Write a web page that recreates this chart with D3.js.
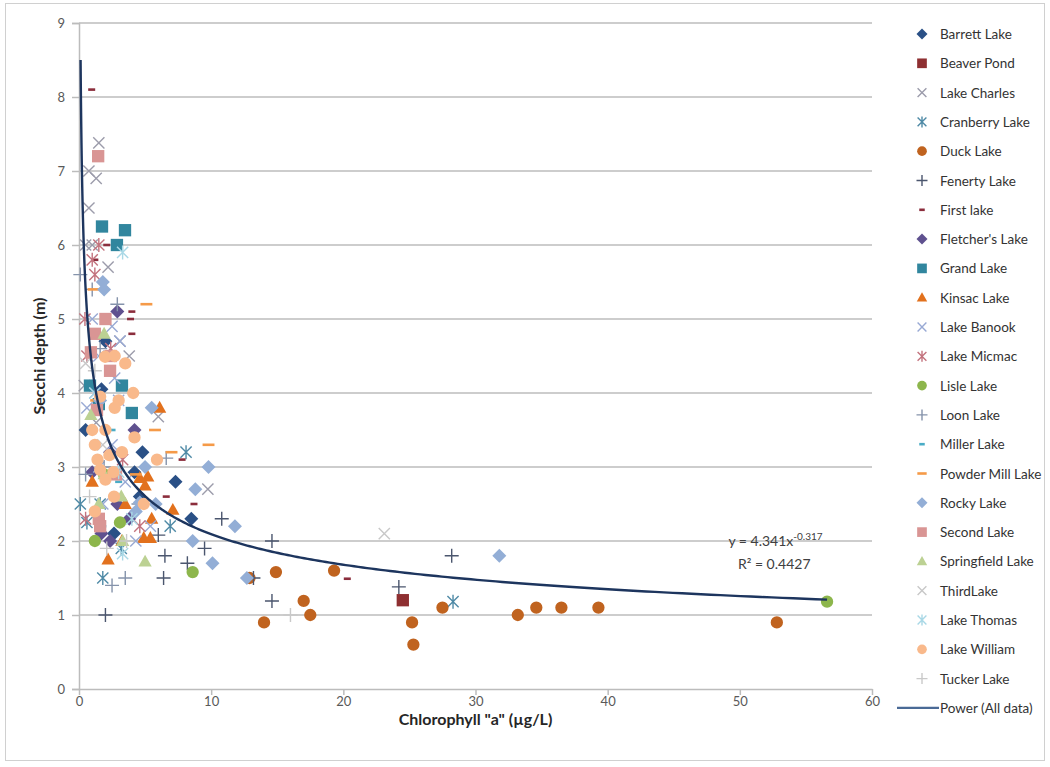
<!DOCTYPE html>
<html>
<head>
<meta charset="utf-8">
<script src="https://cdn.jsdelivr.net/npm/d3@7"></script>
<style>
  body { margin: 0; background: #fff; }
  text { font-family: Lato, "Open Sans", sans-serif; }
</style>
</head>
<body>
<div id="viz"></div>
<script>
// values: [chlorophyll a (ug/L), secchi depth (m)]
const barrettLake = [[0.5,3.5],[2.0,4.7],[4.8,3.2],[7.3,2.8],[8.5,2.3],[4.6,2.6],[2.65,2.1],[4.2,2.93],[1.7,4.05]];
const beaverPond = [[24.5,1.2]];
const lakeCharles = [[1.5,7.38],[0.75,7.0],[1.3,6.9],[0.75,6.5],[0.5,6.0],[1.0,6.0],[2.2,5.7],[3.1,4.7],[3.8,4.5],[6.0,3.68],[9.75,2.7],[1.3,3.6],[0.4,4.1]];
const cranberryLake = [[0.1,2.5],[0.6,2.25],[6.9,2.2],[8.1,3.2],[1.8,1.5],[28.3,1.18],[3.2,1.9],[1.6,2.5]];
const duckLake = [[12.9,1.5],[14.9,1.58],[19.3,1.6],[17.0,1.19],[17.5,1.0],[14.0,0.9],[25.2,0.9],[25.3,0.6],[27.5,1.1],[33.2,1.0],[34.6,1.1],[36.5,1.1],[39.3,1.1],[52.8,0.9]];
const fenertyLake = [[2.0,1.0],[6.4,1.5],[6.5,1.8],[8.2,1.7],[9.5,1.9],[6.0,2.08],[10.8,2.3],[14.6,2.0],[14.6,1.19],[24.2,1.38],[28.2,1.8],[13.2,1.5]];
const firstLake = [[0.96,8.1],[2.1,6.0],[4.0,5.1],[3.9,5.0],[4.0,4.8],[7.8,3.1],[6.6,2.6],[8.7,2.5],[20.3,1.49],[1.2,5.8]];
const fletchersLake = [[2.9,5.1],[1.0,2.93],[2.35,3.2],[3.8,2.3],[2.35,2.0],[1.7,2.1],[2.9,2.5],[4.2,3.5]];
const grandLake = [[1.74,6.25],[3.48,6.2],[2.87,6.0],[0.83,4.1],[3.25,4.1],[4.0,3.73],[1.5,3.85]];
const kinsacLake = [[6.1,3.8],[1.0,2.8],[4.6,2.85],[5.2,2.87],[5.0,2.75],[3.5,2.5],[7.1,2.42],[5.5,2.3],[4.9,2.04],[5.4,2.04],[2.2,1.75],[3.25,2.0]];
const lakeBanook = [[1.0,5.0],[1.5,4.5],[2.5,4.9],[1.2,4.0],[2.5,3.3],[0.6,3.8],[3.5,2.8],[4.3,2.0],[1.5,3.0],[2.7,4.2],[1.8,2.5],[5.4,2.2],[3.0,3.9],[3.1,4.7]];
const lakeMicmac = [[1.0,5.8],[1.2,5.6],[0.45,5.0],[0.6,4.5],[1.5,6.0],[0.5,2.3],[2.4,4.6],[4.6,2.2],[3.3,3.1]];
const lisleLake = [[1.2,2.0],[3.1,2.25],[8.6,1.58],[56.6,1.18],[1.9,2.9]];
const loonLake = [[0.1,5.6],[1.0,5.4],[2.9,5.2],[1.6,4.6],[6.6,3.12],[3.5,1.5],[2.5,1.4],[1.9,3.0],[4.5,2.5],[0.5,2.9]];
const millerLake = [[2.5,3.5],[1.8,2.2],[3.0,2.8]];
const powderMillLake = [[5.1,5.2],[1.1,5.4],[5.75,3.5],[9.8,3.3],[7.0,3.2],[4.3,2.9],[1.3,3.9]];
const rockyLake = [[1.8,5.5],[1.9,5.4],[5.5,3.8],[9.8,3.0],[5.0,3.0],[8.8,2.7],[8.6,2.0],[10.1,1.7],[11.8,2.2],[12.7,1.5],[31.8,1.8],[4.6,2.52],[5.8,2.5],[1.6,3.9],[4.3,2.4]];
const secondLake = [[1.45,7.2],[2.0,5.0],[1.2,4.8],[2.35,4.3],[1.36,3.77],[2.4,4.5],[1.5,2.3],[1.6,2.2],[2.8,2.9],[0.9,4.55]];
const springfieldLake = [[1.9,4.8],[5.0,1.72],[1.5,2.5],[3.2,2.6],[1.9,2.9],[0.9,3.7],[3.3,2.0]];
const thirdLake = [[23.1,2.1],[0.5,4.4],[1.8,3.3]];
const lakeThomas = [[3.3,1.83],[3.3,5.9],[1.2,4.0],[3.0,2.93],[4.0,2.3]];
const lakeWilliam = [[1.97,4.49],[2.7,4.5],[3.5,4.4],[4.1,4.0],[1.6,3.95],[3.0,3.9],[2.7,3.8],[1.0,3.5],[2.0,3.5],[4.2,3.4],[1.2,3.3],[2.3,3.16],[3.25,3.2],[5.9,3.1],[4.9,2.5],[2.65,2.6],[1.6,2.96],[2.6,2.93],[2.0,2.83],[1.2,2.4],[1.4,3.1]];
const tuckerLake = [[16.0,1.0],[1.2,4.3],[0.8,2.6],[3.6,2.0],[2.1,1.9]];

const seriesNames = ["Barrett Lake","Beaver Pond","Lake Charles","Cranberry Lake","Duck Lake","Fenerty Lake","First lake","Fletcher's Lake","Grand Lake","Kinsac Lake","Lake Banook","Lake Micmac","Lisle Lake","Loon Lake","Miller Lake","Powder Mill Lake","Rocky Lake","Second Lake","Springfield Lake","ThirdLake","Lake Thomas","Lake William","Tucker Lake"];
const seriesData = [barrettLake, beaverPond, lakeCharles, cranberryLake, duckLake, fenertyLake, firstLake, fletchersLake, grandLake, kinsacLake, lakeBanook, lakeMicmac, lisleLake, loonLake, millerLake, powderMillLake, rockyLake, secondLake, springfieldLake, thirdLake, lakeThomas, lakeWilliam, tuckerLake];

// power trend fitted to all data
const trendA = 4.341;
const trendB = -0.317;
const trendRange = [0.12, 56.6];
const xTicks = [0, 10, 20, 30, 40, 50, 60];
const yTicks = [0, 1, 2, 3, 4, 5, 6, 7, 8, 9];

// marker look for each series, in the same order
const markerStyle = [
  {shape: "diamond", color: "#2a5086"},
  {shape: "square", color: "#8e2f31"},
  {shape: "x", color: "#9c9cab"},
  {shape: "star", color: "#4f8aa6"},
  {shape: "circle", color: "#c0631f"},
  {shape: "plus", color: "#4b566e"},
  {shape: "dash", color: "#8b2d3c"},
  {shape: "diamond", color: "#5f518f"},
  {shape: "square", color: "#31869e"},
  {shape: "triangle", color: "#e2711d"},
  {shape: "x", color: "#98a9d4"},
  {shape: "star", color: "#c3737e"},
  {shape: "circle", color: "#8db64c"},
  {shape: "plus", color: "#8593ab"},
  {shape: "dash", color: "#4aacc6"},
  {shape: "longdash", color: "#f59a48"},
  {shape: "diamond", color: "#93aed6"},
  {shape: "square", color: "#d99594"},
  {shape: "triangle", color: "#bcd193"},
  {shape: "x", color: "#c8c8c8"},
  {shape: "star", color: "#a9d8e6"},
  {shape: "circle", color: "#f9b98b"},
  {shape: "plus", color: "#c9c9c9"}
];

const W = 1050, H = 767;
const margin = {top: 23, right: 178, bottom: 78, left: 79};
const width = W - margin.left - margin.right;
const height = H - margin.top - margin.bottom;

const svg = d3.select("#viz").append("svg")
  .attr("width", W)
  .attr("height", H);

svg.append("rect")
  .attr("x", 5.5).attr("y", 3.5)
  .attr("width", W - 11).attr("height", H - 10)
  .attr("fill", "none")
  .attr("stroke", "#d0d0d0");

const g = svg.append("g").attr("transform", `translate(${margin.left},${margin.top})`);

const x = d3.scaleLinear().domain([0, 60]).range([0, width]);
const y = d3.scaleLinear().domain([0, 9]).range([height, 0]);

// gridlines + y axis
const yAxis = g.append("g")
  .call(d3.axisLeft(y).tickValues(yTicks).tickSize(7).tickFormat(d3.format("d")));
yAxis.select(".domain").attr("stroke", "#bcbcbc").attr("stroke-width", 1.5);
yAxis.selectAll(".tick line").attr("stroke", "#bcbcbc").attr("stroke-width", 1.5);
yAxis.selectAll(".tick text").attr("fill", "#595959").style("font-size", "13px").attr("x", -14);

g.append("g")
  .selectAll("line")
  .data(yTicks.filter(d => d > 0))
  .join("line")
    .attr("x1", 0).attr("x2", width)
    .attr("y1", d => y(d)).attr("y2", d => y(d))
    .attr("stroke", "#bcbcbc")
    .attr("stroke-width", 1.5);

const xAxis = g.append("g")
  .attr("transform", `translate(0,${height})`)
  .call(d3.axisBottom(x).tickValues(xTicks).tickSize(6).tickSizeOuter(0));
xAxis.select(".domain").attr("stroke", "#bcbcbc").attr("stroke-width", 1.5);
xAxis.selectAll(".tick line").attr("stroke", "#bcbcbc").attr("stroke-width", 1.5);
xAxis.selectAll(".tick text").attr("fill", "#595959").style("font-size", "13px").attr("y", 8);

function markerPath(shape, s) {
  const p = d3.path();
  if (shape === "diamond") {
    p.moveTo(0, -s); p.lineTo(s, 0); p.lineTo(0, s); p.lineTo(-s, 0); p.closePath();
  } else if (shape === "square") {
    p.rect(-s * 0.88, -s * 0.88, s * 1.76, s * 1.76);
  } else if (shape === "triangle") {
    p.moveTo(0, -s); p.lineTo(s * 0.95, s * 0.7); p.lineTo(-s * 0.95, s * 0.7); p.closePath();
  } else if (shape === "circle") {
    p.arc(0, 0, s * 0.88, 0, 2 * Math.PI);
  } else if (shape === "x") {
    p.moveTo(-s * 0.8, -s * 0.8); p.lineTo(s * 0.8, s * 0.8);
    p.moveTo(s * 0.8, -s * 0.8); p.lineTo(-s * 0.8, s * 0.8);
  } else if (shape === "plus") {
    p.moveTo(-s, 0); p.lineTo(s, 0); p.moveTo(0, -s); p.lineTo(0, s);
  } else if (shape === "star") {
    p.moveTo(-s * 0.8, -s * 0.8); p.lineTo(s * 0.8, s * 0.8);
    p.moveTo(s * 0.8, -s * 0.8); p.lineTo(-s * 0.8, s * 0.8);
    p.moveTo(0, -s); p.lineTo(0, s);
  } else if (shape === "dash") {
    p.rect(-s * 0.5, -1.3, s, 2.6);
  } else if (shape === "longdash") {
    p.rect(-s * 0.85, -1.3, s * 1.7, 2.6);
  }
  return p.toString();
}

const filled = new Set(["diamond", "square", "triangle", "circle", "dash", "longdash"]);

function drawMarker(sel, style) {
  sel.attr("d", markerPath(style.shape, 7))
    .attr("fill", filled.has(style.shape) ? style.color : "none")
    .attr("stroke", filled.has(style.shape) ? "none" : style.color)
    .attr("stroke-width", 1.4);
}

const points = g.append("g");
seriesData.forEach((pts, i) => {
  points.append("g")
    .selectAll("path")
    .data(pts)
    .join("path")
      .attr("transform", d => `translate(${x(d[0])},${y(d[1])})`)
      .call(drawMarker, markerStyle[i]);
});

// power trend line
const trendX = d3.range(0, 401).map(i => trendRange[0] * Math.pow(trendRange[1] / trendRange[0], i / 400));
g.append("path")
  .datum(trendX)
  .attr("fill", "none")
  .attr("stroke", "#1d355e")
  .attr("stroke-width", 2.4)
  .attr("d", d3.line().x(d => x(d)).y(d => y(trendA * Math.pow(d, trendB))));

const eq = g.append("text")
  .attr("x", x(52.7)).attr("y", y(1.93))
  .attr("text-anchor", "middle")
  .attr("fill", "#404040")
  .style("font-size", "14px");
eq.append("tspan").text(`y = ${trendA}x`);
eq.append("tspan").attr("dy", -6).style("font-size", "10px").text(trendB);
g.append("text")
  .attr("x", x(52.6)).attr("y", y(1.62))
  .attr("text-anchor", "middle")
  .attr("fill", "#404040")
  .style("font-size", "14px")
  .text("R² = 0.4427");

// axis titles
svg.append("text")
  .attr("x", margin.left + width / 2).attr("y", 725)
  .attr("text-anchor", "middle")
  .attr("fill", "#262626")
  .style("font-size", "16px").style("font-weight", "bold")
  .text('Chlorophyll "a" (µg/L)');

svg.append("text")
  .attr("transform", `translate(45,${margin.top + height / 2}) rotate(-90)`)
  .attr("text-anchor", "middle")
  .attr("fill", "#262626")
  .style("font-size", "16px").style("font-weight", "bold")
  .text("Secchi depth (m)");

// legend
const legend = svg.append("g").attr("transform", "translate(922,34)");
const rowH = 29.3;
seriesNames.forEach((name, i) => {
  const row = legend.append("g").attr("transform", `translate(0,${i * rowH})`);
  row.append("path").call(drawMarker, markerStyle[i]).attr("d", markerPath(markerStyle[i].shape, 5.5));
  row.append("text")
    .attr("x", 18).attr("y", 5)
    .attr("fill", "#333")
    .style("font-size", "13.5px")
    .text(name);
});
const trendRow = legend.append("g").attr("transform", `translate(0,${seriesNames.length * rowH})`);
trendRow.append("line")
  .attr("x1", -25).attr("x2", 17)
  .attr("stroke", "#4a6a96").attr("stroke-width", 2.2);
trendRow.append("text")
  .attr("x", 18).attr("y", 5)
  .attr("fill", "#333")
  .style("font-size", "13.5px")
  .text("Power (All data)");
</script>
</body>
</html>
